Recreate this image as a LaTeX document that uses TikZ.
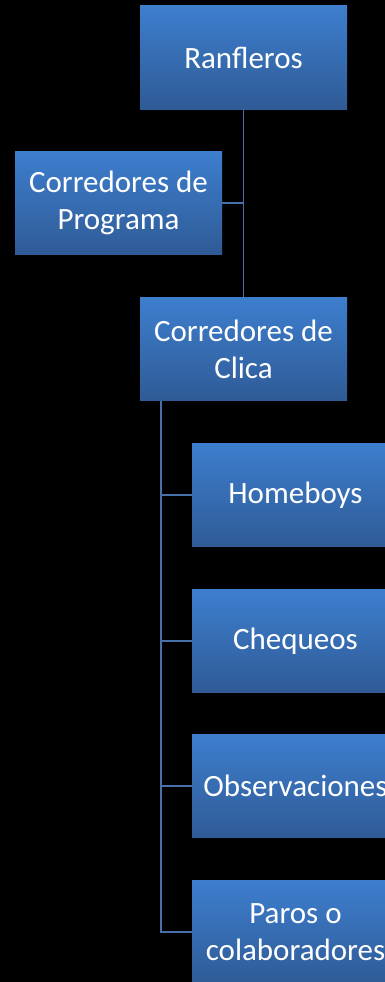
\documentclass[tikz,border=0pt]{standalone}
\usepackage{fontspec}
\setmainfont{Carlito}
\begin{document}
\begin{tikzpicture}[x=1pt,y=-1pt,
  orgbox/.style={rectangle, minimum width=207pt, minimum height=103pt, inner sep=0pt,
    top color={rgb,255:red,61;green,126;blue,206}, bottom color={rgb,255:red,47;green,91;blue,150},
    text=white, align=center, font=\fontsize{31}{37}\selectfont},
  link/.style={draw={rgb,255:red,72;green,112;blue,170}, line width=1.4pt}]
\fill[black] (0,0) rectangle (385,982);
\useasboundingbox (0,0) rectangle (385,982);
\begin{scope}
\clip (0,0) rectangle (385,982);
\node[orgbox] (ran) at (243.5,57.5) {Ranfleros};
\node[orgbox] (prog) at (118.5,203) {Corredores de\\Programa};
\node[orgbox] (clica) at (243.5,349) {Corredores de\\Clica};
\node[orgbox] (home) at (295.5,495) {Homeboys};
\node[orgbox] (cheq) at (295.5,641) {Chequeos};
\node[orgbox] (obs) at (295.5,786) {Observaciones};
\node[orgbox] (paros) at (295.5,932) {Paros o\\colaboradores};
\coordinate (j1) at (243.5,203);
\coordinate (t) at (161,400);
\draw[link] (ran.south) -- (clica.north);
\draw[link] (prog.east) -- (j1);
\draw[link] (clica.south -| t) |- (paros.west);
\draw[link] (home.west -| t) -- (home.west);
\draw[link] (cheq.west -| t) -- (cheq.west);
\draw[link] (obs.west -| t) -- (obs.west);
\end{scope}
\end{tikzpicture}
\end{document}
